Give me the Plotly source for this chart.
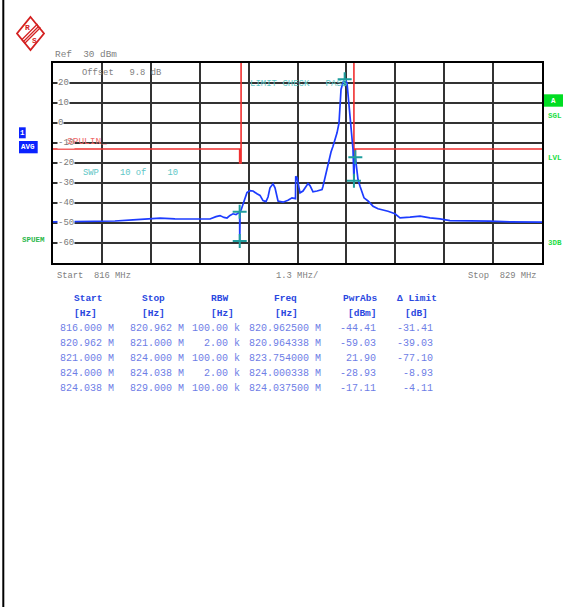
import plotly.graph_objects as go

# ---------------- data ----------------
# Measured trace (frequency MHz, level dBm)
trace_freq_mhz = [816.000, 816.452, 816.851, 817.249, 817.648, 818.127, 818.446, 818.845, 819.243,
                  819.642, 819.908, 820.174, 820.333, 820.440, 820.546, 820.626, 820.706, 820.785,
                  820.865, 820.9625, 820.964338, 820.975, 821.000, 821.051, 821.104, 821.157, 821.237,
                  821.317, 821.423, 821.503, 821.583, 821.662, 821.716, 821.769, 821.849, 821.902,
                  821.982, 822.115, 822.248, 822.354, 822.447, 822.453, 822.487, 822.567, 822.646,
                  822.726, 822.779, 822.832, 822.912, 823.019, 823.152, 823.178, 823.258, 823.338,
                  823.391, 823.444, 823.551, 823.604, 823.631, 823.657, 823.710, 823.754, 823.816,
                  823.870, 823.915, 823.949, 823.976, 824.000338, 824.015, 824.0375, 824.084, 824.109,
                  824.162, 824.215, 824.268, 824.375, 824.507, 824.640, 824.906, 825.092, 825.225,
                  825.491, 825.757, 826.022, 826.288, 826.554, 827.086, 827.618, 828.149, 829.000]
trace_level_dbm = [-49.4, -49.3, -49.0, -48.8, -49.0, -48.4, -48.2, -47.6, -47.9,
                   -48.0, -48.2, -48.0, -46.8, -46.3, -47.2, -47.5, -46.2, -45.4,
                   -45.8, -44.41, -59.03, -44.0, -43.5, -40.7, -37.5, -34.8, -33.8,
                   -34.0, -35.4, -36.2, -38.8, -39.3, -37.0, -32.4, -30.4, -32.4,
                   -39.0, -39.6, -38.6, -37.4, -37.8, -26.6, -27.3, -34.9, -34.0,
                   -31.5, -30.3, -31.3, -34.4, -34.0, -33.3, -31.6, -24.9, -18.3,
                   -14.5, -11.6, -4.9, 0.1, 10.1, 16.8, 20.4, 21.9, 20.1,
                   8.4, 0.1, -6.6, -13.3, -28.93, -17.5, -17.11, -24.0, -28.3,
                   -31.6, -34.9, -37.4, -39.0, -41.6, -42.9, -44.1, -45.4, -47.4,
                   -47.1, -46.6, -47.4, -47.9, -48.8, -48.8, -49.1, -49.4, -49.6]

# Spurious emission table
range_start_mhz = [816.000, 820.962, 821.000, 824.000, 824.038]
range_stop_mhz = [820.962, 821.000, 824.000, 824.038, 829.000]
rbw_khz = [100.00, 2.00, 100.00, 2.00, 100.00]
peak_freq_mhz = [820.962500, 820.964338, 823.754000, 824.000338, 824.037500]
pwr_abs_dbm = [-44.41, -59.03, 21.90, -28.93, -17.11]
delta_limit_db = [-31.41, -39.03, -77.10, -8.93, -4.11]

y_tick_values = [20, 10, 0, -10, -20, -30, -40, -50, -60]

# ---------------- geometry helpers ----------------
L, T, W, H = 53, 63, 489, 200
FIG_W, FIG_H = 564, 607


def PX(x):
    return (x - L) / W


def PY(y):
    return (T + H - y) / H


MONO = "Liberation Mono, DejaVu Sans Mono, monospace"
NB = "\u00a0"


def sp(s):
    return s.replace(" ", NB)


fig = go.Figure()

# limit line derived from table
limit_x, limit_y = [], []
for s, e, p, d in zip(range_start_mhz, range_stop_mhz, pwr_abs_dbm, delta_limit_db):
    lim = round(p - d, 2)
    limit_x += [s, e]
    limit_y += [lim, lim]

fig.add_trace(go.Scatter(x=limit_x, y=limit_y, mode="lines",
                         line=dict(color="#f03030", width=1.6), hoverinfo="skip", showlegend=False))

fig.add_trace(go.Scatter(x=trace_freq_mhz, y=trace_level_dbm, mode="lines",
                         line=dict(color="#1d3cff", width=1.7), showlegend=False))

fig.add_trace(go.Scatter(x=peak_freq_mhz, y=pwr_abs_dbm, mode="markers",
                         marker=dict(symbol="cross-thin", size=10,
                                     line=dict(color="#1f9e9e", width=2)),
                         showlegend=False))

fig.update_xaxes(range=[816, 829], tick0=816, dtick=1.3, showticklabels=False, ticks="",
                 showgrid=True, gridcolor="#333333", gridwidth=1.5, zeroline=False,
                 showline=True, linecolor="black", linewidth=2, mirror=True)
fig.update_yaxes(range=[-70, 30], tick0=-70, dtick=10, showticklabels=False, ticks="",
                 showgrid=True, gridcolor="#333333", gridwidth=1.5, zeroline=False,
                 showline=True, linecolor="black", linewidth=2, mirror=True)

ann = []


def txt(x, y, s, color="#808080", size=9, xanchor="left", bold=False, bg=None):
    t = sp(s)
    if bold:
        t = "<b>" + t + "</b>"
    d = dict(x=PX(x), y=PY(y), xref="paper", yref="paper", text=t, showarrow=False,
             xanchor=xanchor, yanchor="middle", font=dict(family=MONO, size=size, color=color))
    if bg:
        d["bgcolor"] = bg
        d["borderpad"] = 0
    ann.append(d)


# y tick labels inside plot
for v in y_tick_values:
    py = T + (30 - v) * 2
    txt(56.5, py, str(v), color="#7a7a7a", size=9, bg="white")

txt(53, 54, "Ref  30 dBm", size=9.4)
txt(80, 72.5, "Offset   9.8 dB", size=8.8)
txt(248, 84, "LIMIT CHECK   PASS", color="#5ec6c6", size=9)
txt(81, 172.5, "SWP    10 of    10", color="#5ec6c6", size=8.8)
txt(65, 141.5, "SPULIN_", color="#f06a6a", size=9.5)
txt(55, 275.5, "Start  816 MHz", size=8.8)
txt(297, 275.5, "1.3 MHz/", size=8.8, xanchor="center")
txt(539, 275.5, "Stop  829 MHz", size=8.8, xanchor="right")

# side labels
txt(20, 239.5, "SPUEM", color="#2bb84a", size=7.5, bold=True)
txt(546, 115.5, "SGL", color="#22dd44", size=7.5, bold=True)
txt(546, 157.5, "LVL", color="#22dd44", size=7.5, bold=True)
txt(546, 242.5, "3DB", color="#22dd44", size=7.5, bold=True)

shapes = []
# blue boxes
shapes.append(dict(type="rect", xref="paper", yref="paper", x0=PX(19), x1=PX(25.7), y0=PY(138.3),
                   y1=PY(127.3), fillcolor="#0a22ff", line=dict(width=0)))
shapes.append(dict(type="rect", xref="paper", yref="paper", x0=PX(19), x1=PX(37.7), y0=PY(153.3),
                   y1=PY(141), fillcolor="#0a22ff", line=dict(width=0)))
txt(22.4, 133, "1", color="white", size=7.5, xanchor="center", bold=True)
txt(28.3, 147.3, "AVG", color="white", size=7.5, xanchor="center", bold=True)
# green A box
shapes.append(dict(type="rect", xref="paper", yref="paper", x0=PX(544), x1=PX(563), y0=PY(106.7),
                   y1=PY(94.3), fillcolor="#00dd22", line=dict(width=0)))
txt(553.5, 100.5, "A", color="white", size=7.5, xanchor="center", bold=True)

# left page border
shapes.append(dict(type="line", xref="paper", yref="paper", x0=PX(3.3), x1=PX(3.3), y0=PY(0),
                   y1=PY(607), line=dict(color="black", width=2)))

# R&S logo (diamond)
def diamond(cx, cy, rx, ry):
    pts = [(cx, cy - ry), (cx + rx, cy), (cx, cy + ry), (cx - rx, cy)]
    return "M " + " L ".join(f"{PX(a):.5f},{PY(b):.5f}" for a, b in pts) + " Z"


shapes.append(dict(type="path", xref="paper", yref="paper", path=diamond(30.5, 33.5, 13.5, 16.5),
                   line=dict(color="#d42020", width=1.8)))
shapes.append(dict(type="line", xref="paper", yref="paper", x0=PX(23), y0=PY(42), x1=PX(39), y1=PY(26),
                   line=dict(color="#d42020", width=1.2)))
shapes.append(dict(type="line", xref="paper", yref="paper", x0=PX(21.5), y0=PY(40), x1=PX(37.5), y1=PY(24),
                   line=dict(color="#d42020", width=1.2)))
shapes.append(dict(type="line", xref="paper", yref="paper", x0=PX(24.5), y0=PY(43.5), x1=PX(40.5), y1=PY(27.5),
                   line=dict(color="#d42020", width=1.2)))
txt(27, 27, "R", color="#d42020", size=8, xanchor="center", bold=True)
txt(34.5, 40, "S", color="#d42020", size=8, xanchor="center", bold=True)

# ---------------- table ----------------
HDR = "#2a48e0"
DAT = "#6e7ee6"
header_y, unit_y = 298.5, 313.5
row_y = [328.5, 343.5, 358.5, 373.5, 388.5]
headers = [("Start", 88), ("Stop", 153.5), ("RBW", 219), ("Freq", 285), ("PwrAbs", 360), ("\u0394 Limit", 417)]
units = [("[Hz]", 85), ("[Hz]", 153.5), ("[Hz]", 222), ("[Hz]", 286), ("[dBm]", 362.5), ("[dB]", 416)]
for s, x in headers:
    txt(x, header_y, s, color=HDR, size=9.5, xanchor="center", bold=True)
for s, x in units:
    txt(x, unit_y, s, color=HDR, size=9.5, xanchor="center", bold=True)

col_right = [116, 185.5, 242, 323, 378, 434.5]
for i, y in enumerate(row_y):
    cells = [f"{range_start_mhz[i]:.3f} M", f"{range_stop_mhz[i]:.3f} M", f"{rbw_khz[i]:.2f} k",
             f"{peak_freq_mhz[i]:.6f} M", f"{pwr_abs_dbm[i]:.2f}", f"{delta_limit_db[i]:.2f}"]
    for c, xr in zip(cells, col_right):
        txt(xr, y, c, color=DAT, size=10, xanchor="right")

fig.update_layout(width=FIG_W, height=FIG_H, margin=dict(l=L, r=FIG_W - L - W, t=T, b=FIG_H - T - H),
                  paper_bgcolor="white", plot_bgcolor="white", annotations=ann, shapes=shapes,
                  showlegend=False)

fig.write_html("out.html", config={"displayModeBar": False},
               post_script="document.body.style.margin='0';document.body.style.overflow='hidden';")
